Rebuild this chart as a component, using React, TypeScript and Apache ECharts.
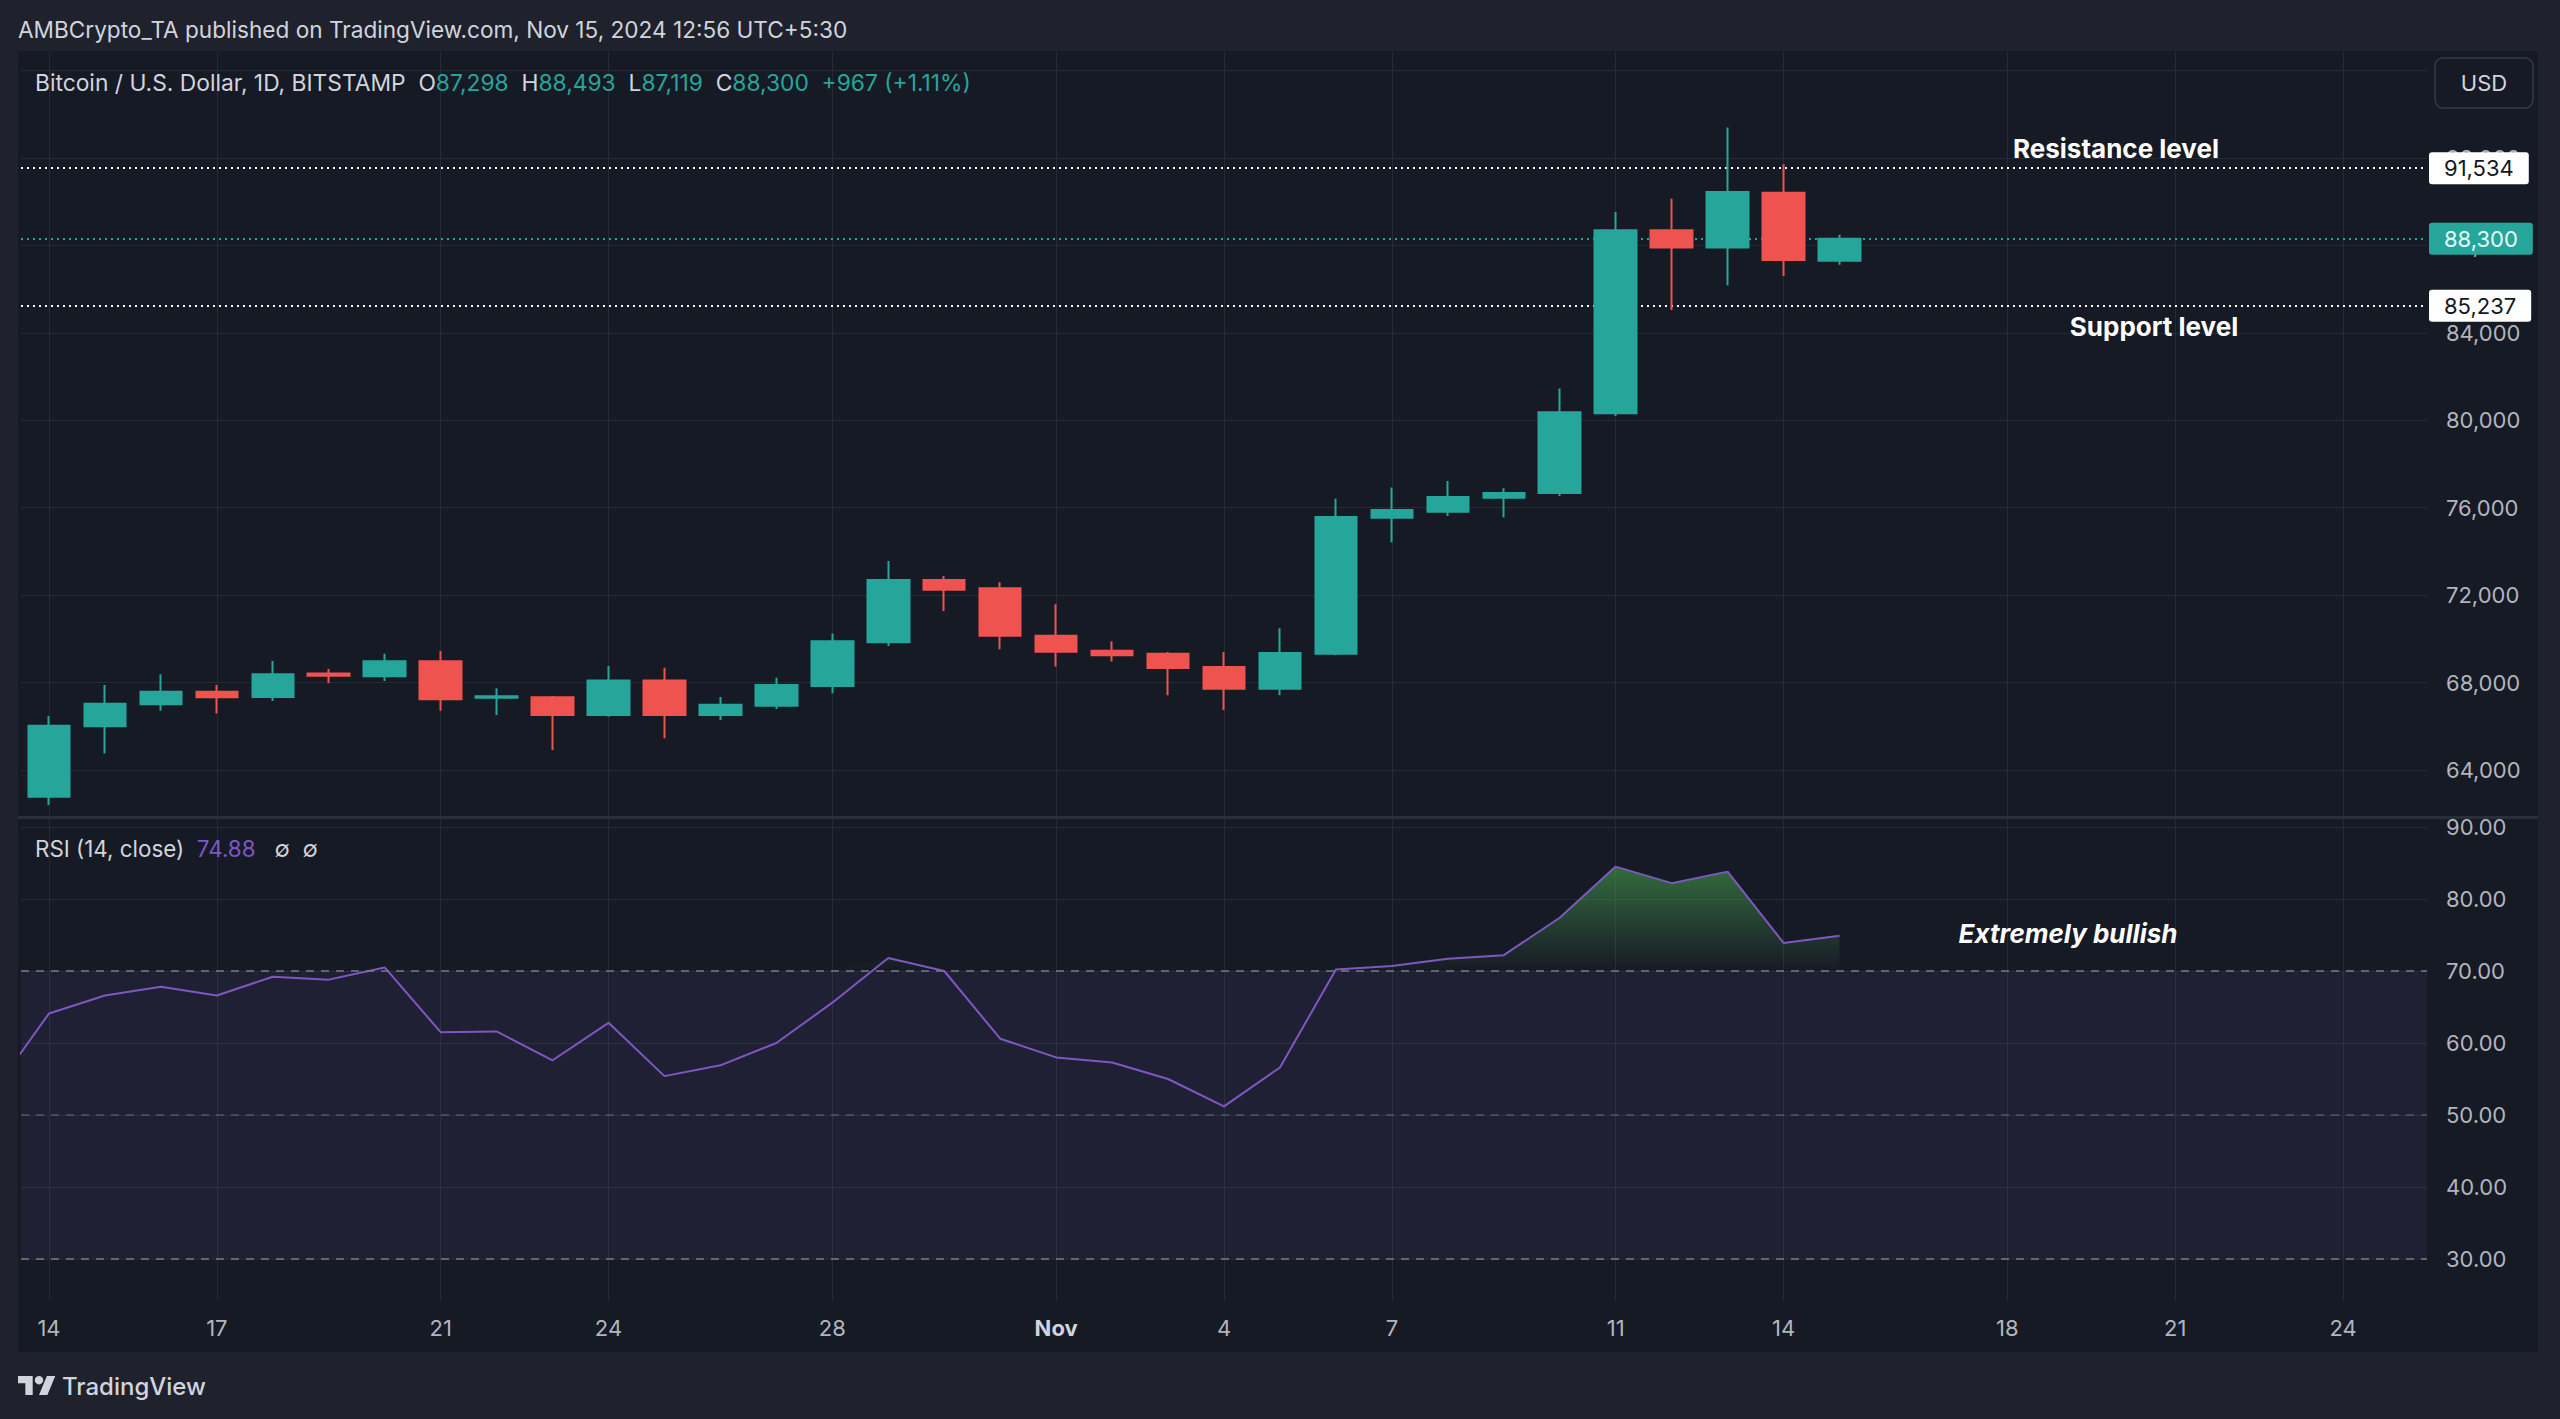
import React, { useEffect, useRef } from "react";
import * as echarts from "echarts";

// ---------- data ----------
const categories = [
  "Oct 14", "Oct 15", "Oct 16", "Oct 17", "Oct 18", "Oct 19", "Oct 20", "Oct 21", "Oct 22", "Oct 23",
  "Oct 24", "Oct 25", "Oct 26", "Oct 27", "Oct 28", "Oct 29", "Oct 30", "Oct 31",
  "Nov 1", "Nov 2", "Nov 3", "Nov 4", "Nov 5", "Nov 6", "Nov 7", "Nov 8", "Nov 9", "Nov 10",
  "Nov 11", "Nov 12", "Nov 13", "Nov 14", "Nov 15", "Nov 16", "Nov 17", "Nov 18", "Nov 19", "Nov 20",
  "Nov 21", "Nov 22", "Nov 23", "Nov 24", "Nov 25",
];

const xTickDays = ["Oct 14", "Oct 17", "Oct 21", "Oct 24", "Oct 28", "Nov 1", "Nov 4", "Nov 7", "Nov 11", "Nov 14", "Nov 18", "Nov 21", "Nov 24"];
const xTickLabels = ["14", "17", "21", "24", "28", "Nov", "4", "7", "11", "14", "18", "21", "24"];

const opens = [62780, 66000, 67010, 67580, 67340, 68420, 68290, 68970, 67310, 67330, 66520, 68100, 66520, 66940, 67840, 69840, 72690, 72310, 70140, 69460, 69320, 68710, 67720, 69320, 75540, 75820, 76460, 76670, 80320, 88690, 87910, 90410, 87298];
const highs = [66470, 67890, 68380, 67890, 68990, 68620, 69320, 69440, 67740, 67390, 68760, 68680, 67340, 68220, 70250, 73560, 72880, 72590, 71580, 69890, 69400, 69400, 70480, 76410, 76920, 77220, 76890, 81450, 89530, 90140, 93390, 91710, 88493];
const lows = [62400, 64760, 66710, 66590, 67160, 67970, 68070, 66710, 66520, 64920, 66440, 65450, 66290, 66790, 67510, 69670, 71270, 69520, 68730, 68960, 67420, 66750, 67420, 69250, 74420, 75620, 75560, 76540, 80200, 85050, 86180, 86600, 87119];
const closes = [66030, 67030, 67580, 67330, 68380, 68310, 68970, 67240, 67370, 66520, 68100, 66520, 66990, 67890, 69890, 72690, 72250, 70140, 69410, 69250, 68670, 67720, 69350, 75580, 75900, 76490, 76670, 80370, 88690, 87910, 90440, 87333, 88300];

// RSI starts one day earlier (Oct 13, partly off the left edge)
const rsiDays = ["Oct 13", ...categories.slice(0, 33)];
const rsiValues = [53.2, 64.1, 66.6, 67.8, 66.6, 69.2, 68.8, 70.5, 61.5, 61.6, 57.6, 62.8, 55.4, 56.9, 60.0, 65.6, 71.8, 70.0, 60.6, 58.0, 57.3, 55.0, 51.2, 56.6, 70.2, 70.7, 71.7, 72.2, 77.4, 84.5, 82.2, 83.8, 73.9, 74.88];

const resistanceLevel = 91534;
const supportLevel = 85237;
const rsiBands = [70, 50, 30];

// axis ranges
const priceAxisMin = 60000;
const priceAxisMax = 96000;
const priceStep = 4000;
const rsiAxisMin = 20;
const rsiAxisMax = 100;
const rsiStep = 10;

// ---------- style ----------
const OUTER = "#1f222c";
const PANEL = "#161a25";
const GRID = "#252a36";
const AXIS_TEXT = "#b2b5be";
const TEXT = "#d1d4dc";
const UP = "#26a69a";
const DOWN = "#ef5350";
const RSI_COLOR = "#7e57c2";
const FONT = "Inter, 'Noto Sans', 'DejaVu Sans', sans-serif";

echarts.graphic.registerShape(
  "tvlogo",
  echarts.graphic.extendPath("M14 22H7V11H0V4h14v18zM28 22h-8l7.5-18h8L28 22z", {})
);

const fmtNum = (v: number) => v.toLocaleString("en-US");

function buildOption() {
  const last = closes.length - 1;
  const lastClose = closes[last];
  const change = closes[last] - closes[last - 1];
  const pct = (change / closes[last - 1]) * 100;
  const sign = change >= 0 ? "+" : "";
  const lastRsi = rsiValues[rsiValues.length - 1];

  const legendText =
    "{t|Bitcoin / U.S. Dollar, 1D, BITSTAMP  O}{v|" + fmtNum(opens[last]) +
    "}{t|  H}{v|" + fmtNum(highs[last]) +
    "}{t|  L}{v|" + fmtNum(lows[last]) +
    "}{t|  C}{v|" + fmtNum(lastClose) +
    "}{v|  " + sign + fmtNum(change) + " (" + sign + pct.toFixed(2) + "%)}";

  const rsiLegend = "{t|RSI (14, close)  }{p|" + lastRsi.toFixed(2) + "}{t|   ∅  ∅}";

  const dotted = (color: string) => ({ color, type: [2, 4] as any, width: 2 });
  const badge = (bg: string, fg: string) => ({
    show: true,
    position: "end",
    distance: 2,
    backgroundColor: bg,
    color: fg,
    padding: [5, 15, 5, 15],
    borderRadius: 3,
    fontSize: 22,
    lineHeight: 22,
    fontFamily: FONT,
    formatter: (p: any) => fmtNum(p.value),
  });

  // main pane: 64,000 at y=770, 92,000 at y=158
  const pxPerUsd = (770 - 158) / 28000;
  const mainTop = 770 - (priceAxisMax - 64000) * pxPerUsd;
  const mainBottom = 770 + (64000 - priceAxisMin) * pxPerUsd;

  const lbl = { color: AXIS_TEXT, fontSize: 22, fontFamily: FONT };

  return {
    animation: false,
    backgroundColor: "transparent",
    textStyle: { fontFamily: FONT },
    grid: [
      { left: 21, width: 2406, top: mainTop, height: mainBottom - mainTop },
      { left: 21, width: 2406, top: 755, height: 576 },
      { left: 21, width: 2406, top: 52, height: 1248 },
    ],
    xAxis: [
      { type: "category", gridIndex: 0, data: categories, show: false, boundaryGap: true },
      { type: "value", gridIndex: 1, min: -0.5, max: 42.5, show: false },
      {
        type: "category",
        gridIndex: 2,
        data: categories,
        boundaryGap: true,
        axisLine: { show: false },
        axisTick: { show: false },
        splitLine: { show: false },
        axisLabel: {
          ...lbl,
          interval: (_i: number, v: string) => xTickDays.includes(v),
          formatter: (v: string) => {
            const lab = xTickLabels[xTickDays.indexOf(v)];
            return isNaN(Number(lab)) ? "{b|" + lab + "}" : lab;
          },
          margin: 17,
          rich: { b: { fontWeight: "bold", color: TEXT, fontSize: 22, fontFamily: FONT } },
        },
      },
    ],
    yAxis: [
      {
        type: "value",
        gridIndex: 0,
        position: "right",
        min: priceAxisMin,
        max: priceAxisMax,
        interval: priceStep,
        axisLine: { show: false },
        axisTick: { show: false },
        axisLabel: { ...lbl, margin: 19, showMinLabel: false, formatter: (v: number) => fmtNum(v) },
        splitLine: { show: true, showMinLine: false, lineStyle: { color: GRID, width: 1 } },
      },
      {
        type: "value",
        gridIndex: 1,
        position: "right",
        min: rsiAxisMin,
        max: rsiAxisMax,
        interval: rsiStep,
        axisLine: { show: false },
        axisTick: { show: false },
        axisLabel: { ...lbl, margin: 19, showMinLabel: false, showMaxLabel: false, formatter: (v: number) => v.toFixed(2) },
        splitLine: { show: true, showMinLine: false, showMaxLine: false, lineStyle: { color: GRID, width: 1 } },
      },
      { type: "value", gridIndex: 2, min: 0, max: 1, show: false },
    ],
    series: [
      {
        type: "line",
        xAxisIndex: 2,
        yAxisIndex: 2,
        z: 0,
        data: [["Oct 14", 0.5]],
        symbol: "none",
        lineStyle: { opacity: 0 },
        silent: true,
        markLine: {
          z: 0,
          silent: true,
          symbol: ["none", "none"],
          label: { show: false },
          lineStyle: { color: GRID, width: 1, type: "solid" },
          data: xTickDays.map((d) => ({ xAxis: d })),
        },
      },
      {
        type: "candlestick",
        xAxisIndex: 0,
        yAxisIndex: 0,
        barWidth: 42,
        data: opens.map((o, i) => [o, closes[i], lows[i], highs[i]]),
        itemStyle: { color: UP, color0: DOWN, borderColor: UP, borderColor0: DOWN, borderWidth: 2 },
        markLine: {
          z: 1,
          silent: true,
          symbol: ["none", "none"],
          data: [
            { yAxis: resistanceLevel, lineStyle: dotted("#ffffff"), label: badge("#ffffff", "#131722") },
            { yAxis: lastClose, lineStyle: dotted(UP), label: badge(UP, "#e6faf6") },
            { yAxis: supportLevel, lineStyle: dotted("#ffffff"), label: badge("#ffffff", "#131722") },
          ],
        },
      },
      {
        type: "line",
        xAxisIndex: 1,
        yAxisIndex: 1,
        z: 1,
        data: rsiDays.map((_d, i) => [i - 1, Math.max(rsiValues[i], rsiBands[0])]),
        symbol: "none",
        silent: true,
        lineStyle: { width: 0, opacity: 0 },
        areaStyle: {
          origin: rsiBands[0],
          opacity: 1,
          color: new echarts.graphic.LinearGradient(0, 0, 0, 1, [
            { offset: 0, color: "rgba(76,175,80,0.55)" },
            { offset: 1, color: "rgba(76,175,80,0)" },
          ]),
        },
      },
      {
        type: "line",
        xAxisIndex: 1,
        yAxisIndex: 1,
        z: 3,
        data: rsiDays.map((_d, i) => [i - 1, rsiValues[i]]),
        symbol: "none",
        lineStyle: { color: RSI_COLOR, width: 2 },
        itemStyle: { color: RSI_COLOR },
        markArea: {
          silent: true,
          itemStyle: { color: "rgba(126,87,194,0.1)" },
          data: [[{ yAxis: rsiBands[2] }, { yAxis: rsiBands[0] }]],
        },
        markLine: {
          silent: true,
          symbol: ["none", "none"],
          label: { show: false },
          data: [
            { yAxis: rsiBands[0], lineStyle: { color: "#787b86", type: [8, 7], width: 1.5 } },
            { yAxis: rsiBands[1], lineStyle: { color: "rgba(120,123,134,0.55)", type: [8, 7], width: 1.5 } },
            { yAxis: rsiBands[2], lineStyle: { color: "#787b86", type: [8, 7], width: 1.5 } },
            {
              yAxis: lastRsi,
              lineStyle: { opacity: 0, width: 0 },
              label: {
                show: true,
                position: "end",
                distance: 3,
                backgroundColor: RSI_COLOR,
                color: "#f3effa",
                padding: [5, 12, 5, 16],
                borderRadius: 3,
                fontSize: 22,
                lineHeight: 22,
                fontFamily: FONT,
                formatter: (p: any) => Number(p.value).toFixed(2),
              },
            },
          ],
        },
      },
    ],
    graphic: {
      elements: [
        {
          type: "text", x: 18, y: 29, z: 100,
          style: { text: "AMBCrypto_TA published on TradingView.com, Nov 15, 2024 12:56 UTC+5:30", fill: TEXT, fontSize: 22.6, fontFamily: FONT, verticalAlign: "middle" },
        },
        {
          type: "text", x: 35, y: 82, z: 100,
          style: {
            text: legendText, verticalAlign: "middle", fontSize: 22.8, fontFamily: FONT,
            rich: { t: { fill: TEXT, fontSize: 22.8, fontFamily: FONT }, v: { fill: UP, fontSize: 22.8, fontFamily: FONT } },
          },
        },
        {
          type: "text", x: 35, y: 848, z: 100,
          style: {
            text: rsiLegend, verticalAlign: "middle", fontSize: 22.4, fontFamily: FONT,
            rich: { t: { fill: TEXT, fontSize: 22.4, fontFamily: FONT }, p: { fill: RSI_COLOR, fontSize: 22.4, fontFamily: FONT } },
          },
        },
        { type: "rect", z: 100, shape: { x: 18, y: 816, width: 2520, height: 3 }, style: { fill: "#2a2e39" } },
        { type: "rect", z: 100, shape: { x: 2435, y: 58, width: 98, height: 50, r: 8 }, style: { fill: PANEL, stroke: "#363a45", lineWidth: 1.5 } },
        { type: "text", z: 101, x: 2484, y: 83, style: { text: "USD", fill: TEXT, fontSize: 22, fontFamily: FONT, align: "center", verticalAlign: "middle" } },
        { type: "text", z: 100, x: 2116, y: 148, style: { text: "Resistance level", fill: "#ffffff", fontSize: 26, fontWeight: "bold", fontFamily: FONT, align: "center", verticalAlign: "middle" } },
        { type: "text", z: 100, x: 2154, y: 326, style: { text: "Support level", fill: "#ffffff", fontSize: 26, fontWeight: "bold", fontFamily: FONT, align: "center", verticalAlign: "middle" } },
        { type: "text", z: 100, x: 2068, y: 933, style: { text: "Extremely bullish", fill: "#ffffff", fontSize: 26, fontWeight: "bold", fontStyle: "italic", fontFamily: FONT, align: "center", verticalAlign: "middle" } },
        { type: "tvlogo", z: 100, x: 18, y: 1371.8, scaleX: 1.05, scaleY: 1.05, style: { fill: TEXT } },
        { type: "circle", z: 100, shape: { cx: 39, cy: 1380.2, r: 4.2 }, style: { fill: TEXT } },
        { type: "text", z: 100, x: 62, y: 1386, style: { text: "TradingView", fill: TEXT, fontSize: 24, fontWeight: 500, fontFamily: FONT, verticalAlign: "middle" } },
      ],
    },
  };
}

export default function App() {
  const ref = useRef<HTMLDivElement>(null);
  useEffect(() => {
    document.body.style.margin = "0";
    document.body.style.background = OUTER;
    const chart = echarts.init(ref.current!, null, { renderer: "svg" });
    chart.setOption(buildOption() as any);
    return () => chart.dispose();
  }, []);
  return (
    <div style={{ position: "relative", width: 2560, height: 1419, background: OUTER, overflow: "hidden" }}>
      <div style={{ position: "absolute", left: 18, top: 51, width: 2520, height: 1301, background: PANEL }} />
      <div ref={ref} style={{ position: "absolute", left: 0, top: 0, width: 2560, height: 1419 }} />
    </div>
  );
}
